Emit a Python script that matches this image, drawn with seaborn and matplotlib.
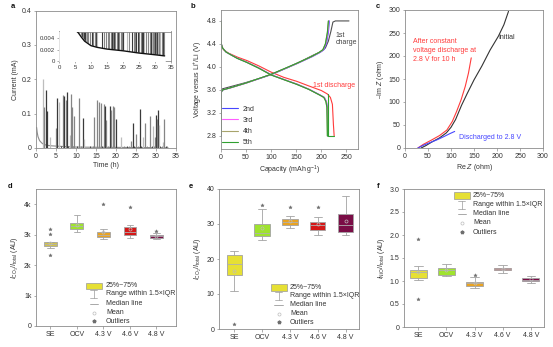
import numpy as np
import pandas as pd
import matplotlib
matplotlib.use("Agg")
import matplotlib.pyplot as plt
import seaborn as sns
from matplotlib.patches import Rectangle
from matplotlib.lines import Line2D

# ---------------- data ----------------
# (a) current relaxation during constant-voltage hold
decay_t = [0.15, 0.3, 0.5, 0.8, 1.0, 1.5, 2, 3, 4, 5, 6, 7, 8, 10, 12, 15, 20, 25, 30, 33]
decay_i = [0.060, 0.045, 0.033, 0.024, 0.020, 0.014, 0.010, 0.0075, 0.0062, 0.0055,
           0.0050, 0.0042, 0.0035, 0.0027, 0.0024, 0.0021, 0.0018, 0.0014, 0.0011, 0.0009]

spike_t = [1.67, 2.1, 2.4, 2.8, 3.6, 4.9, 5.3, 5.8, 6.8, 7.1, 7.4, 7.8, 8.4, 8.7, 8.9,
           9.6, 10.7, 11.7, 12.0, 14.6, 15.3, 15.7, 16.2, 17.0, 17.3, 17.6, 18.5, 18.8,
           19.3, 19.6, 20.1, 21.2, 23.8, 24.2, 25.0, 25.9, 26.7, 27.3, 28.5, 29.2, 29.7,
           29.9, 30.2, 30.6, 30.8, 31.7, 32.1]
spike_i = [0.200, 0.118, 0.169, 0.109, 0.033, 0.059, 0.145, 0.135, 0.154, 0.150, 0.140,
           0.163, 0.038, 0.156, 0.120, 0.093, 0.145, 0.087, 0.025, 0.091, 0.140, 0.135,
           0.132, 0.129, 0.122, 0.080, 0.122, 0.110, 0.122, 0.118, 0.084, 0.031, 0.020,
           0.072, 0.041, 0.113, 0.031, 0.072, 0.093, 0.064, 0.033, 0.096, 0.085, 0.111,
           0.067, 0.016, 0.084]
spike_shade = ["light", "mid", "dark", "dark", "light", "mid", "dark", "light", "mid", "dark",
               "mid", "dark", "light", "mid", "mid", "mid", "mid", "dark", "light", "mid",
               "mid", "mid", "mid", "mid", "dark", "mid", "dark", "mid", "mid", "mid",
               "dark", "light", "mid", "dark", "mid", "dark", "light", "mid", "mid", "light",
               "mid", "dark", "mid", "dark", "light", "light", "mid"]
small_t = [6.3, 7.6, 8.1, 9.2, 10.2, 11.3, 13.4, 14.2, 16.6, 18.1, 19.9, 21.9, 22.7,
           23.3, 24.6, 25.5, 26.3, 27.8, 28.9, 29.5, 31.1, 31.4, 32.5, 32.8]
small_i = [0.006] * 24
small_shade = ["dark", "mid", "dark", "mid", "dark", "mid", "dark", "mid", "dark", "mid",
               "dark", "mid", "dark", "mid", "dark", "mid", "dark", "mid", "dark", "mid",
               "dark", "mid", "dark", "mid"]

# (b) voltage profiles
ch1_cap = [0, 3, 20, 50, 80, 100, 130, 160, 185, 200, 208, 214, 219, 223, 228, 255]
ch1_v = [3.58, 3.62, 3.66, 3.73, 3.81, 3.87, 3.98, 4.10, 4.21, 4.27, 4.33, 4.45, 4.62, 4.78, 4.80, 4.80]
dc1_cap = [0, 5, 15, 33, 52, 75, 100, 125, 151, 175, 200, 212, 218, 222, 224, 225.5]
dc1_v = [4.40, 4.30, 4.24, 4.17, 4.11, 4.02, 3.91, 3.82, 3.75, 3.67, 3.59, 3.53, 3.47, 3.35, 3.00, 2.80]

ch_v = [2.80, 3.55, 3.60, 3.64, 3.72, 3.87, 4.06, 4.18, 4.25, 4.30, 4.40, 4.60, 4.80]
ch_cap = {
    "2nd": [0, 0, 3, 20, 50, 101, 152, 182, 197, 205, 210, 214, 216],
    "3rd": [0, 0, 3, 20, 50, 100, 151, 181, 196, 204, 209, 213, 215],
    "4th": [0, 0, 3, 20, 50, 100, 151, 180, 195, 203, 208, 212, 214],
    "5th": [0, 0, 3, 19, 49, 99, 150, 180, 195, 203, 208, 212, 214],
}
dc_v = [4.80, 4.42, 4.33, 4.26, 4.21, 4.15, 4.08, 3.98, 3.86, 3.78, 3.70, 3.61, 3.51,
        3.47, 3.40, 3.30, 2.80]
dc_cap = {
    "2nd": [0, 0, 3, 10, 20, 33, 52, 76, 101, 126, 152, 176, 198, 206, 210, 212, 213],
    "3rd": [0, 0, 3, 10, 20, 33, 52, 76, 101, 126, 151, 176, 198, 206, 210, 212, 213],
    "4th": [0, 0, 3, 10, 20, 33, 52, 75, 100, 125, 151, 175, 197, 205, 209, 211, 212],
    "5th": [0, 0, 3, 10, 20, 32, 51, 75, 100, 125, 150, 175, 197, 205, 209, 211, 212],
}
rest5_cap = [214, 214, 226]
rest5_v = [3.53, 2.80, 2.80]
cycle_colors = {"2nd": "#4646ff", "3rd": "#ff5cff", "4th": "#a8a46c", "5th": "#2fa030"}

# (c) Nyquist plots
init_re = [35, 45, 60, 75, 90, 100, 110, 123, 135, 150, 167, 185, 203, 215, 225]
init_im = [0, 5, 14, 22, 33, 45, 62, 93, 118, 148, 178, 213, 243, 268, 297]
cv_re = [28, 40, 58, 75, 91, 103, 112, 122, 131, 138, 144]
cv_im = [0, 8, 17.5, 27, 39, 58, 79, 105, 134, 163, 196]
dis_re = [28, 40, 55, 70, 85, 97, 108]
dis_im = [0, 6, 12, 18, 25, 31, 36]

# (d-f) normalised fragment intensities
cats = ["SE", "OCV", "4.3 V", "4.6 V", "4.8 V"]
d_vals = [
    [2330, 2560, 2635, 2680, 2700, 2720, 2770, 3020, 3190],
    [3100, 3150, 3200, 3260, 3300, 3340, 3390, 3500, 3640],
    [2860, 2880, 2900, 2920, 2950, 2980, 3000, 3030, 3060, 3090, 3130, 3180, 4000],
    [2880, 2930, 2980, 3030, 3080, 3160, 3240, 3330, 3910],
    [2870, 2880, 2890, 2920, 2950, 2965, 2980, 3050, 3130],
]
e_vals = [
    [1.3, 11.0, 15.4, 17.8, 18.6, 20.8, 21.2, 21.8, 22.4],
    [25.5, 26.0, 26.6, 27.0, 27.4, 28.6, 30.0, 34.3, 35.4],
    [28.8, 29.3, 29.7, 30.1, 30.5, 31.0, 31.5, 32.4, 34.8],
    [26.9, 27.8, 28.4, 29.0, 29.6, 30.1, 30.6, 32.1, 34.8],
    [26.9, 27.3, 27.7, 28.8, 29.8, 31.4, 32.9, 35.0, 37.9],
]
f_vals = [
    [0.60, 1.03, 1.06, 1.13, 1.19, 1.22, 1.25, 1.33, 1.92],
    [1.11, 1.12, 1.14, 1.20, 1.24, 1.27, 1.29, 1.33, 1.38],
    [0.84, 0.88, 0.90, 0.93, 0.95, 0.965, 0.98, 1.08, 1.12],
    [1.17, 1.21, 1.23, 1.25, 1.26, 1.275, 1.29, 1.31, 1.34],
    [0.96, 0.98, 1.00, 1.02, 1.03, 1.05, 1.07, 1.09, 1.11],
]
d_colors = ["#d2c24c", "#9fe32e", "#e9a322", "#d41818", "#7a0d46"]
ef_colors = ["#e6e034", "#9fe32e", "#e9a322", "#d41818", "#7a0d46"]

# ---------------- style ----------------
sns.set_theme(style="ticks")
TXT = "#333333"
EDGE = "#8c8c8c"
plt.rcParams.update({
    "font.family": ["Liberation Sans", "DejaVu Sans"],
    "font.size": 5,
    "axes.labelsize": 5,
    "xtick.labelsize": 5,
    "ytick.labelsize": 5,
    "axes.edgecolor": EDGE,
    "axes.linewidth": 0.6,
    "xtick.color": EDGE,
    "ytick.color": EDGE,
    "xtick.labelcolor": TXT,
    "ytick.labelcolor": TXT,
    "axes.labelcolor": TXT,
    "text.color": TXT,
    "xtick.major.size": 1.8,
    "ytick.major.size": 1.8,
    "xtick.major.width": 0.5,
    "ytick.major.width": 0.5,
    "xtick.major.pad": 1.5,
    "ytick.major.pad": 1.5,
    "axes.labelpad": 2,
    "mathtext.fontset": "custom",
    "mathtext.rm": "Liberation Sans",
    "mathtext.it": "Liberation Sans:italic",
    "mathtext.bf": "Liberation Sans:bold",
})

W, H = 553, 347
fig = plt.figure(figsize=(W / 100, H / 100), dpi=100, facecolor="white")


def rect(x0, x1, y0, y1):
    return [x0 / W, 1 - y1 / H, (x1 - x0) / W, (y1 - y0) / H]


shade_map = {"light": "#bdbdbd", "mid": "#858585", "dark": "#3a3a3a"}

# ---------------- (a) ----------------
ax_a = fig.add_axes(rect(36, 176, 10.5, 148))
sns.lineplot(x=decay_t, y=decay_i, ax=ax_a, color="#8a8a8a", lw=0.8,
             estimator=None, sort=False)
ax_a.vlines(spike_t, 0, spike_i, colors=[shade_map[s] for s in spike_shade], lw=0.9)
ax_a.vlines(small_t, 0, small_i, colors=[shade_map[s] for s in small_shade], lw=0.6)
ax_a.set_xlim(0, 35)
ax_a.set_ylim(0, 0.4)
ax_a.set_xticks(range(0, 36, 5))
ax_a.set_yticks([0, 0.1, 0.2, 0.3, 0.4])
ax_a.set_yticklabels(["0", "0.1", "0.2", "0.3", "0.4"])
ax_a.set_xlabel("Time (h)")
ax_a.set_ylabel("Current (mA)")

ax_in = fig.add_axes(rect(59, 171, 31.5, 61))
ax_in.set_facecolor("white")
ax_in.vlines(spike_t, 0, spike_i, colors=[shade_map[s] for s in spike_shade], lw=0.8)
ax_in.vlines(small_t, 0, small_i, colors=[shade_map[s] for s in small_shade], lw=0.8)
ax_in.fill_between(decay_t, 0, decay_i, color="white", zorder=3)
sns.lineplot(x=decay_t, y=decay_i, ax=ax_in, color="#111111", lw=1.0,
             estimator=None, sort=False, zorder=4)
ax_in.set_xlim(0, 35)
ax_in.set_ylim(0, 0.0052)
ax_in.set_xticks(range(0, 36, 5))
ax_in.set_yticks([0, 0.002, 0.004])
ax_in.set_yticklabels(["0", "0.002", "0.004"])
ax_in.tick_params(labelsize=4.3, length=1.5, pad=1.2)

# ---------------- (b) ----------------
ax_b = fig.add_axes(rect(221, 358, 10, 149))
sns.lineplot(x=ch1_cap, y=ch1_v, ax=ax_b, color="#505050", lw=0.8, estimator=None, sort=False)
sns.lineplot(x=dc1_cap, y=dc1_v, ax=ax_b, color="#ff3b3b", lw=0.8, estimator=None, sort=False)
for cyc in ["2nd", "3rd", "4th", "5th"]:
    sns.lineplot(x=ch_cap[cyc], y=ch_v, ax=ax_b, color=cycle_colors[cyc], lw=0.8,
                 estimator=None, sort=False)
    sns.lineplot(x=dc_cap[cyc], y=dc_v, ax=ax_b, color=cycle_colors[cyc], lw=0.8,
                 estimator=None, sort=False)
sns.lineplot(x=rest5_cap, y=rest5_v, ax=ax_b, color=cycle_colors["5th"], lw=0.8,
             estimator=None, sort=False)
ax_b.set_xlim(0, 273)
ax_b.set_ylim(2.574, 4.99)
ax_b.set_xticks([0, 50, 100, 150, 200, 250])
ax_b.set_yticks([2.8, 3.2, 3.6, 4.0, 4.4, 4.8])
ax_b.set_xlabel("Capacity (mAh\u2009g$^{-1}$)")
ax_b.set_ylabel("Voltage versus Li$^{+}$/Li (V)")
ax_b.text(228, 4.55, "1st", color="#444444", va="center", ha="left", fontsize=5)
ax_b.text(228, 4.42, "charge", color="#444444", va="center", ha="left", fontsize=5)
ax_b.text(184, 3.68, "1st discharge", color="#ff3b3b", va="center", ha="left", fontsize=5)
handles = [Line2D([], [], color=cycle_colors[c], lw=0.8) for c in ["2nd", "3rd", "4th", "5th"]]
ax_b.legend(handles, ["2nd", "3rd", "4th", "5th"], loc="lower left",
            bbox_to_anchor=(0.005, 0.02), frameon=False, handlelength=2.3,
            handletextpad=0.7, labelspacing=0.6, fontsize=5, borderaxespad=0,
            borderpad=0)

# ---------------- (c) ----------------
ax_c = fig.add_axes(rect(405, 543, 10, 148))
sns.lineplot(x=init_re, y=init_im, ax=ax_c, color="#333333", lw=0.8, estimator=None, sort=False)
sns.lineplot(x=cv_re, y=cv_im, ax=ax_c, color="#ff3b3b", lw=0.8, estimator=None, sort=False)
sns.lineplot(x=dis_re, y=dis_im, ax=ax_c, color="#4646ff", lw=0.8, estimator=None, sort=False)
ax_c.set_xlim(0, 300)
ax_c.set_ylim(0, 300)
ax_c.set_xticks(range(0, 301, 50))
ax_c.set_yticks(range(0, 301, 50))
ax_c.set_xlabel("Re $Z$ (ohm)")
ax_c.set_ylabel("\u2013Im $Z$ (ohm)")
ax_c.text(18, 240, "After constant\nvoltage discharge at\n2.8 V for 10 h", color="#ff3b3b",
          va="top", ha="left", fontsize=5, linespacing=1.45)
ax_c.text(203, 240, "Initial", color="#333333", va="center", ha="left", fontsize=5)
ax_c.text(118, 23, "Discharged to 2.8 V", color="#4646ff", va="center", ha="left", fontsize=5)


# ---------------- (d-f) ----------------
def box_panel(ax, values, colors, width):
    rows = [(c, v) for c, vals in zip(cats, values) for v in vals]
    df = pd.DataFrame(rows, columns=["sample", "value"])
    sns.boxplot(data=df, x="sample", y="value", hue="sample", order=cats, hue_order=cats,
                palette=colors, saturation=1, width=width, whis=1.5, showmeans=True,
                linecolor="#a2a2a2", linewidth=0.6, legend=False, ax=ax,
                meanprops=dict(marker="o", markerfacecolor="none", markeredgecolor="#bdbdbd",
                               markersize=2.2, markeredgewidth=0.5),
                flierprops=dict(marker="*", markerfacecolor="#6e6e6e", markeredgecolor="#6e6e6e",
                                markersize=2.6, markeredgewidth=0.3),
                medianprops=dict(color="#b0b0b0", lw=0.6))
    ax.set_xlabel("")


def box_key(ax, xp0, xp1, xt, rows):
    tr = ax.transAxes
    xc = (xp0 + xp1) / 2
    y = rows[0]
    ax.add_patch(Rectangle((xp0, y - 0.025), xp1 - xp0, 0.05, transform=tr,
                           facecolor="#e6e034", edgecolor="#9a9a9a", lw=0.5, clip_on=False))
    y = rows[1]
    ax.plot([xc, xc], [y - 0.03, y + 0.03], transform=tr, color="#9a9a9a", lw=0.5)
    ax.plot([xc - 0.025, xc + 0.025], [y + 0.03, y + 0.03], transform=tr, color="#9a9a9a", lw=0.5)
    ax.plot([xc - 0.025, xc + 0.025], [y - 0.03, y - 0.03], transform=tr, color="#9a9a9a", lw=0.5)
    y = rows[2]
    ax.plot([xc - 0.03, xc + 0.03], [y, y], transform=tr, color="#9a9a9a", lw=0.6)
    ax.plot([xc], [rows[3]], transform=tr, marker="o", markerfacecolor="none",
            markeredgecolor="#bdbdbd", markersize=2.2, markeredgewidth=0.5)
    ax.plot([xc], [rows[4]], transform=tr, marker="*", color="#6e6e6e", markersize=2.6)
    labels = ["25%~75%", "Range within 1.5\u00d7IQR", "Median line", "Mean", "Outliers"]
    for lab, yy in zip(labels, rows):
        ax.text(xt, yy, lab, transform=tr, va="center", ha="left", fontsize=5, color=TXT)


ax_d = fig.add_axes(rect(36, 176, 189, 326))
box_panel(ax_d, d_vals, d_colors, 0.48)
ax_d.set_xlim(-0.54, 4.74)
ax_d.set_ylim(0, 4500)
ax_d.set_yticks([0, 1000, 2000, 3000, 4000])
ax_d.set_yticklabels(["0", "1k", "2k", "3k", "4k"])
ax_d.set_ylabel(r"$I_{\mathrm{CO_3}}/I_{\mathrm{total}}$ (AU)")
box_key(ax_d, 0.357, 0.471, 0.50, [0.292, 0.234, 0.164, 0.098, 0.034])

ax_e = fig.add_axes(rect(219, 359, 189, 329))
box_panel(ax_e, e_vals, ef_colors, 0.55)
ax_e.set_xlim(-0.55, 4.48)
ax_e.set_ylim(0, 40)
ax_e.set_yticks([0, 10, 20, 30, 40])
ax_e.set_ylabel(r"$I_{\mathrm{CO_2}}/I_{\mathrm{total}}$ (AU)")
box_key(ax_e, 0.369, 0.483, 0.507, [0.298, 0.236, 0.174, 0.109, 0.048])

ax_f = fig.add_axes(rect(404, 544, 189, 327))
box_panel(ax_f, f_vals, ef_colors, 0.6)
ax_f.set_xlim(-0.51, 4.47)
ax_f.set_ylim(0, 3.0)
ax_f.set_yticks([0, 0.5, 1.0, 1.5, 2.0, 2.5, 3.0])
ax_f.set_yticklabels(["0", "0.5", "1.0", "1.5", "2.0", "2.5", "3.0"])
ax_f.set_ylabel(r"$I_{\mathrm{NiO}}/I_{\mathrm{total}}$ (AU)")
box_key(ax_f, 0.357, 0.471, 0.493, [0.951, 0.886, 0.821, 0.755, 0.688])

for ax in [ax_a, ax_b, ax_c, ax_d, ax_e, ax_f, ax_in]:
    for s in ax.spines.values():
        s.set_visible(True)
        s.set_color(EDGE)
        s.set_linewidth(0.6)

for lab, (x, y) in zip("abcdef", [(13, 6), (193, 6), (378, 6), (10, 187), (191, 187), (378, 187)]):
    fig.text(x / W, 1 - y / H, lab, fontsize=5.5, fontweight="bold", color="#111111",
             ha="center", va="center")

fig.savefig("out.png", dpi=100, facecolor="white")
